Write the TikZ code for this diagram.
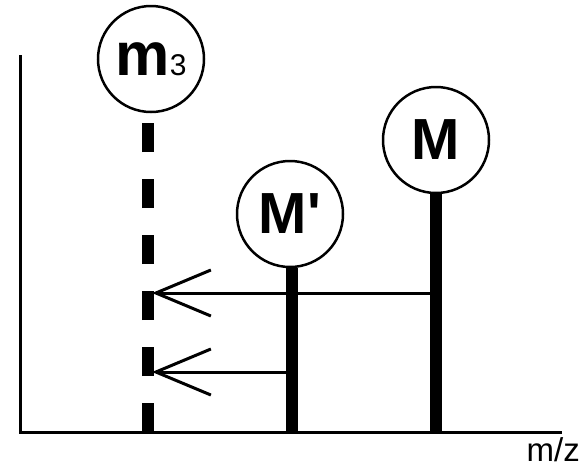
\documentclass[tikz,border=0pt]{standalone}
\usepackage{fontspec}
\setmainfont{Liberation Sans}
\newfontfamily\plainsans{Liberation Sans}
\usetikzlibrary{arrows.meta}
\tikzset{
  peak/.style={circle, draw=black, line width=2.5pt, minimum size=106pt, inner sep=0pt,
    font=\fontsize{58}{60}\selectfont\bfseries},
  stem/.style={line width=12pt, black},
  axisline/.style={line width=3pt, black},
  loss/.style={line width=3pt, black, -{Straight Barb[length=55pt,width=46pt,line width=3pt]}}
}
\begin{document}
\begin{tikzpicture}[x=1pt,y=-1pt]
\useasboundingbox (0,0) rectangle (583,467);
% axes
\coordinate (ytop) at (20,55);
\coordinate (orig) at (20,432);
\coordinate (xend) at (562,432);
\draw[axisline] (ytop) -- (orig) -- (xend);
\node[font=\fontsize{33}{36}\selectfont, anchor=north east, inner sep=0pt] (mz) at (580,437) {m/z};
% peaks
\node[peak] (m3) at (151,59) {\fontsize{61}{62}\selectfont m\fontsize{30}{30}\selectfont\mdseries 3};
\node[peak] (Mp) at (290,214) {M{\plainsans\bfseries\char39}};
\node[peak] (M) at (436,140) {M};
\coordinate (m3b) at (148,432);
\coordinate (Mpb) at (292,432);
\coordinate (Mb) at (436,432);
\coordinate (m3t) at (148,118);
\draw[stem] (Mb) -- (M.south);
\draw[stem] (Mpb) -- (Mp.south -| Mpb);
\draw[stem, dash pattern=on 29pt off 27pt] (m3b) -- (m3t);
% losses
\coordinate (a1s) at (436,293);
\coordinate (a1e) at (152,293);
\coordinate (a2s) at (292,372);
\coordinate (a2e) at (152,372);
\draw[loss] (a1s) -- (a1e);
\draw[loss] (a2s) -- (a2e);
\end{tikzpicture}
\end{document}
